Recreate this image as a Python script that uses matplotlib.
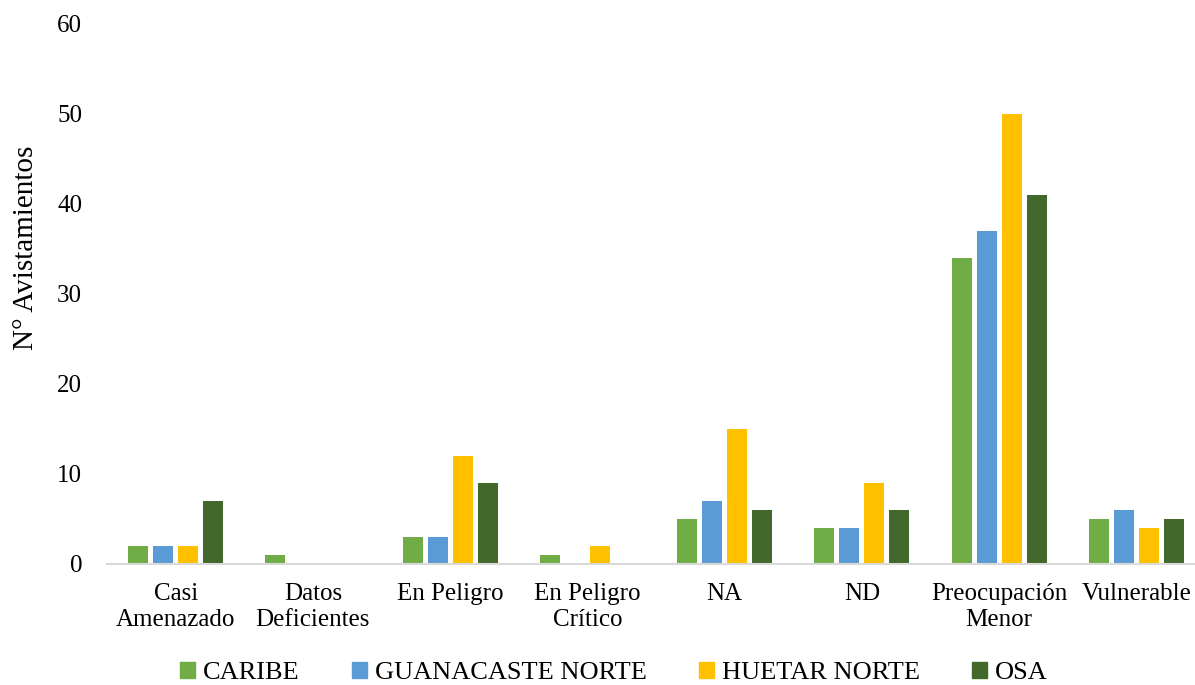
import matplotlib
matplotlib.use("Agg")
import matplotlib.pyplot as plt
import numpy as np
from matplotlib import font_manager

categories = ["Casi\nAmenazado", "Datos\nDeficientes", "En Peligro", "En Peligro\nCrítico",
              "NA", "ND", "Preocupación\nMenor", "Vulnerable"]
series_names = ["CARIBE", "GUANACASTE NORTE", "HUETAR NORTE", "OSA"]
caribe = [2, 1, 3, 1, 5, 4, 34, 5]
guanacaste = [2, 0, 3, 0, 7, 4, 37, 6]
huetar = [2, 0, 12, 2, 15, 9, 50, 4]
osa = [7, 0, 9, 0, 6, 6, 41, 5]
yticks = [0, 10, 20, 30, 40, 50, 60]

colors = ["#70AD47", "#5B9BD5", "#FFC000", "#43682B"]

avail = {f.name for f in font_manager.fontManager.ttflist}
serif = "Liberation Serif" if "Liberation Serif" in avail else "DejaVu Serif"

fig = plt.figure(figsize=(11.95, 6.85), dpi=100)
ax = fig.add_axes([107/1195, 121/685, 1098/1195, 540/685])

x = np.arange(len(categories))
w = 0.146
step = 0.182
data = [caribe, guanacaste, huetar, osa]
for i, (name, vals) in enumerate(zip(series_names, data)):
    ax.bar(x + (i - 1.5) * step, vals, width=w, color=colors[i], label=name, zorder=2)

ax.set_xlim(-0.5, len(categories) - 0.5)
ax.set_ylim(0, 60)
ax.set_yticks(yticks)
ax.set_yticklabels([str(v) for v in yticks], fontsize=18, family=serif)
ax.set_xticks(x)
ax.set_xticklabels(categories, fontsize=18, family=serif, linespacing=1.22)
ax.tick_params(axis="y", length=0, pad=18)
ax.tick_params(axis="x", length=0, pad=14)
for s in ["top", "right", "left"]:
    ax.spines[s].set_visible(False)
ax.spines["bottom"].set_color("#D9D9D9")
ax.spines["bottom"].set_linewidth(1.5)
ax.spines["bottom"].set_zorder(3)

fig.text(26/1195, 1 - 248/685, "N° Avistamientos", rotation=90, fontsize=21,
         family=serif, ha="center", va="center")

handles = [plt.Rectangle((0, 0), 1, 1, color=c) for c in colors]
leg = fig.legend(handles, series_names, loc="center", bbox_to_anchor=(614/1195, 1 - 673/685),
                 ncol=4, frameon=False, prop={"family": serif, "size": 19},
                 handlelength=0.55, handleheight=0.55, handletextpad=0.3, columnspacing=2.0)

fig.savefig("out.png", dpi=100)
